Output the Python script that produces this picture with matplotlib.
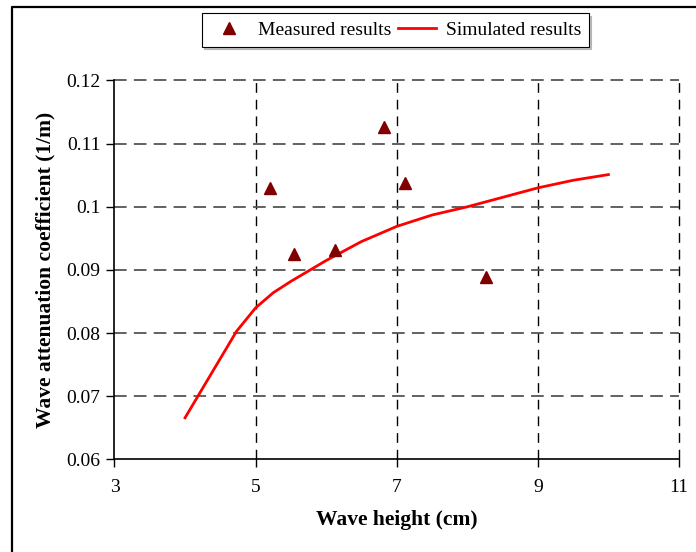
import matplotlib
matplotlib.use("Agg")
import matplotlib.pyplot as plt
from matplotlib.lines import Line2D

# measured points
meas_h = [5.2, 5.55, 6.13, 6.82, 7.12, 8.26]
meas_k = [0.1029, 0.0926, 0.0932, 0.1127, 0.1037, 0.0889]

# simulated curve
sim_h = [4.0, 4.73, 5.0, 5.25, 5.5, 6.0, 6.5, 7.0, 7.5, 8.0, 8.5, 9.0, 9.5, 10.0]
sim_k = [0.0666, 0.0803, 0.0840, 0.0864, 0.0882, 0.0915, 0.0945, 0.0969,
         0.0987, 0.1000, 0.1015, 0.1030, 0.1042, 0.1051]

x_ticks = [3, 5, 7, 9, 11]
y_ticks = [0.06, 0.07, 0.08, 0.09, 0.1, 0.11, 0.12]
y_labels = ["0.06", "0.07", "0.08", "0.09", "0.1", "0.11", "0.12"]

plt.rcParams['font.family'] = ['Liberation Serif', 'DejaVu Serif']

fig = plt.figure(figsize=(6.96, 5.52), dpi=100)
ax = fig.add_axes([0.1645, 0.1676, 0.811, 0.6866])

# figure border (left and top visible)
fig.add_artist(Line2D([12/696, 12/696, 1.0], [0.0, 1 - 7/552, 1 - 7/552],
                      transform=fig.transFigure, color='black', lw=1.6))

ax.plot(meas_h, meas_k, linestyle='none', marker='^', ms=9, color='#800000',
        label='Measured results', zorder=4)
ax.plot(sim_h, sim_k, color='red', lw=2, label='Simulated results', zorder=3)

ax.set_xlim(3, 11)
ax.set_ylim(0.06, 0.12)
ax.set_xticks(x_ticks)
ax.set_yticks(y_ticks)
ax.set_yticklabels(y_labels)
ax.tick_params(labelsize=14, direction='out', length=6, width=1, pad=4)
ax.tick_params(axis='x', pad=8)

for x in x_ticks[1:]:
    ax.axvline(x, color='black', lw=1, dashes=(7, 5), zorder=1, clip_on=False)
for y in y_ticks[1:]:
    ax.axhline(y, color='#555555', lw=1.3, dashes=(7, 4), zorder=1, clip_on=False)

ax.spines['top'].set_visible(False)
ax.spines['right'].set_visible(False)
ax.spines['left'].set_linewidth(1.2)
ax.spines['bottom'].set_linewidth(1.2)

ax.set_xlabel('Wave height (cm)', fontsize=15.5, fontweight='bold', labelpad=10)
ax.set_ylabel('Wave attenuation coefficient (1/m)', fontsize=15.5,
              fontweight='bold', labelpad=8)

leg = ax.legend(loc='center', bbox_to_anchor=(0.498, 1.133), ncol=2,
                fontsize=14, frameon=True, fancybox=False,
                shadow={'ox': 1.5, 'oy': -1.5, 'color': '#888888'},
                handlelength=2.0, columnspacing=0.3, handletextpad=0.5,
                borderpad=0.4, edgecolor='black')
leg.get_frame().set_linewidth(0.8)

plt.savefig('out.png', dpi=100)
